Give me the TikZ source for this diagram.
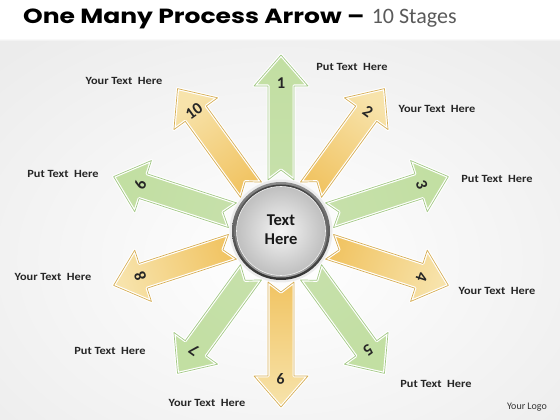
\documentclass[tikz,border=0pt]{standalone}
\usepackage{fontspec}
\usetikzlibrary{calc}
\setmainfont{Carlito}
\newfontfamily\titlefont{Poppins}[FakeStretch=1.22]
\newfontfamily\lblfont{Carlito}[FakeStretch=1.12]
\definecolor{gtip}{HTML}{C2DFA2}
\definecolor{gmid}{HTML}{DAEBC8}
\definecolor{gbase}{HTML}{C6E0AA}
\definecolor{gedge}{HTML}{A3C886}
\definecolor{ytip}{HTML}{F7E3AB}
\definecolor{ymid}{HTML}{F5D88E}
\definecolor{ybase}{HTML}{F1C463}
\definecolor{yedge}{HTML}{D6AE55}
\definecolor{subgray}{HTML}{5A5A5A}
\definecolor{bgout}{HTML}{ECECEC}
\begin{document}
\begin{tikzpicture}[x=1pt,y=1pt,
  lbl/.style={font=\lblfont\bfseries\fontsize{11}{12}\selectfont, text=black!85, inner sep=0pt},
  numlbl/.style={font=\bfseries\fontsize{16.5}{16.5}\selectfont, text=black!85, inner sep=0pt},
  cen/.style={font=\bfseries\fontsize{16.5}{20}\selectfont, align=center, text=black!90}]
\useasboundingbox (0,0) rectangle (560,420);
\shade[inner color=white, outer color=bgout] (-120,-120) rectangle (680,440);
\fill[white] (0,382) rectangle (560,420);
\shade[top color=white, bottom color=black!7] (0,379) rectangle (560,382);
\node[anchor=base west, inner sep=0pt, font=\titlefont\bfseries\fontsize{20.5}{21}\selectfont] (title) at (23,396) {One Many Process Arrow –};
\node[anchor=base west, inner sep=0pt, text=subgray, font=\fontsize{22}{23}\selectfont] (sub) at ([xshift=7pt]title.base east) {10 Stages};
\coordinate (C) at (281,189);
% arrows
\foreach \i in {1,...,10}{
  \pgfmathsetmacro{\a}{90-36*(\i-1)}
  \pgfmathsetmacro{\sa}{\a-90}
  \ifodd\i
    \def\ct{gtip}\def\cm{gmid}\def\cb{gbase}\def\ce{gedge}
  \else
    \def\ct{ytip}\def\cm{ymid}\def\cb{ybase}\def\ce{yedge}
  \fi
  \begin{scope}[shift={(C)}, rotate=\a]
    \path[draw=white, line width=3pt, line join=round, top color=\ct, middle color=\cm, bottom color=\cb, shading angle=\sa]
      (51,13) -- (145,13) -- (145,27) -- (176,0) -- (145,-27) -- (145,-13) -- (51,-13) -- (61,0) -- cycle;
    \draw[\ce, line width=0.7pt, line join=round]
      (51,13) -- (145,13) -- (145,27) -- (176,0) -- (145,-27) -- (145,-13) -- (51,-13) -- (61,0) -- cycle;
  \end{scope}
}
% numbers (label text as printed along each arrow)
\foreach \i/\t in {1/1,2/2,3/3,4/4,5/5,6/9,7/7,8/8,9/6,10/10}{
  \pgfmathsetmacro{\a}{90-36*(\i-1)}
  \node[numlbl, rotate=\a-90] (n\i) at ($(C)+(\a:148)$) {\t};
}
% center
\fill[black!8] (C) circle (51.5);
\shade[top color=black!45, bottom color=black!80] (C) circle (49);
\shade[top color=black!75, bottom color=black!35] (C) circle (46.5);
\shade[inner color=black!4, outer color=black!25] (C) circle (44.5);
\draw[white!70!black!20, line width=0.6pt] (C) circle (44.5);
\node[cen] (ctext) at (281,190) {Text\\[-1pt]Here};
% labels
\node[lbl] (l1) at (352,353) {Put Text~~Here};
\node[lbl] (l2) at (437,311) {Your Text~~Here};
\node[lbl] (l3) at (497,241) {Put Text~~Here};
\node[lbl] (l4) at (497,129) {Your Text~~Here};
\node[lbl] (l5) at (436,36) {Put Text~~Here};
\node[lbl] (l6) at (207,17) {Your Text~~Here};
\node[lbl] (l7) at (110,69) {Put Text~~Here};
\node[lbl] (l8) at (53,143) {Your Text~~Here};
\node[lbl] (l9) at (63,246) {Put Text~~Here};
\node[lbl] (l10) at (124,339) {Your Text~~Here};
\node[inner sep=0pt, text=black!80, font=\fontsize{10}{10}\selectfont] (logo) at (527,13) {Your Logo};
\end{tikzpicture}
\end{document}
